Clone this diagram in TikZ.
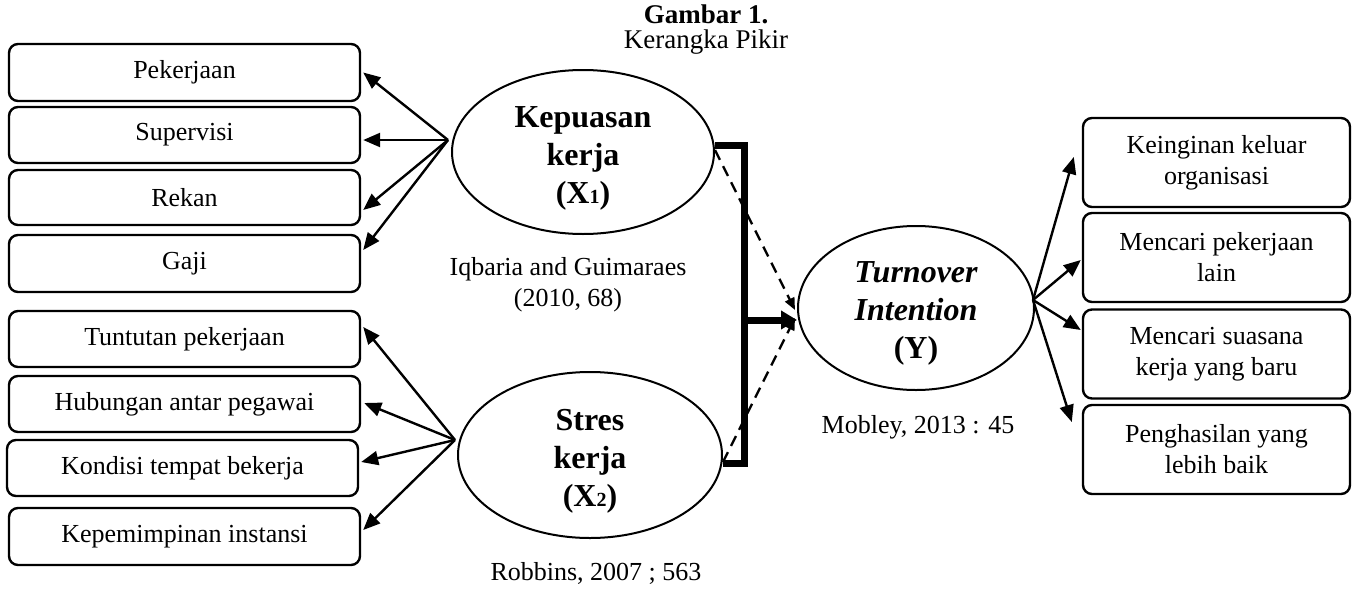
\documentclass[tikz,border=0pt]{standalone}
\usepackage{fontspec}
\setmainfont{Liberation Serif}
\usetikzlibrary{arrows.meta,shapes.geometric,calc}
\tikzset{
  box/.style={draw, line width=2.4pt, rounded corners=9pt, inner sep=0pt, align=center,
    font=\fontsize{26}{31}\selectfont},
  lbox/.style={box, minimum width=351pt, minimum height=56pt},
  rbox/.style={box, minimum width=267pt, minimum height=89pt},
  var/.style={draw, ellipse, line width=2pt, inner sep=0pt},
  vartext/.style={align=center, inner sep=0pt, font=\fontsize{32}{38}\selectfont\bfseries},
  arr/.style={line width=2.4pt, -{Triangle[length=17pt,width=14pt]}},
  thickarr/.style={line width=7pt, -{Triangle[length=16pt,width=18pt]}},
  dasharr/.style={line width=2.4pt, dash pattern=on 11pt off 7pt, -{Triangle[length=12pt,width=10pt]}},
  bracket/.style={line width=7pt},
  lbl/.style={align=center, inner sep=0pt, font=\fontsize{26}{31}\selectfont}
}
\newcommand{\subnum}[1]{{\fontsize{20}{20}\selectfont #1}}
\begin{document}
\begin{tikzpicture}[x=1pt,y=-1pt]
\useasboundingbox (0,0) rectangle (1352,589);

% title
\node[align=center, inner sep=0pt, font=\fontsize{27}{25}\selectfont] (title) at (706,30)
  {\textbf{Gambar 1.}\\Kerangka Pikir};

% left top boxes
\node[lbox, minimum height=57pt] (pek) at (184.5,72.5) {Pekerjaan};
\node[lbox] (sup) at (184.5,135) {Supervisi};
\node[lbox, minimum height=55pt] (rek) at (184.5,197.5) {Rekan};
\node[lbox, minimum height=57pt] (gaj) at (184.5,263.5) {Gaji};

% left bottom boxes
\node[lbox] (tun) at (184.5,339) {Tuntutan pekerjaan};
\node[lbox] (hub) at (184.5,404) {Hubungan antar pegawai};
\node[lbox] (kon) at (182.5,468) {Kondisi tempat bekerja};
\node[lbox, minimum height=57pt] (kep) at (184.5,536.5) {Kepemimpinan instansi};

% right boxes
\node[rbox] (r1) at (1216.5,162.5) {Keinginan keluar\\organisasi};
\node[rbox] (r2) at (1216.5,257.5) {Mencari pekerjaan\\lain};
\node[rbox] (r3) at (1216.5,354) {Mencari suasana\\kerja yang baru};
\node[rbox] (r4) at (1216.5,449.5) {Penghasilan yang\\lebih baik};

% ellipses
\node[var, minimum width=262pt, minimum height=164pt] (x1) at (583,152) {};
\node[vartext] (x1t) at (583,158) {Kepuasan\\kerja\\(X\subnum{1})};
\node[var, minimum width=264pt, minimum height=166pt] (x2) at (590,455) {};
\node[vartext] (x2t) at (590,461) {Stres\\kerja\\(X\subnum{2})};
\node[var, minimum width=236pt, minimum height=164pt] (y) at (916,308) {};
\node[vartext] (yt) at (916,313) {\itshape Turnover\\\itshape Intention\\(Y)};

% citations
\node[lbl] (c1) at (568,285) {Iqbaria and Guimaraes\\(2010, 68)};
\node[lbl] (c2) at (596,573) {Robbins, 2007 ; 563};
\node[lbl] (c3) at (918,427) {Mobley, 2013 : 45};

% convergence points
\coordinate (o1) at (448,140);
\coordinate (o2) at (455,440);
\coordinate (o3) at (1033,300);

\draw[arr] (o1) -- ([xshift=2pt]pek.east);
\draw[arr] (o1) -- ([xshift=2pt,yshift=-5pt]sup.east);
\draw[arr] (o1) -- ([xshift=2pt,yshift=-12.5pt]rek.east);
\draw[arr] (o1) -- ([xshift=2pt,yshift=13.5pt]gaj.east);

\draw[arr] (o2) -- ([xshift=2pt,yshift=12pt]tun.east);
\draw[arr] (o2) -- ([xshift=3pt,yshift=1pt]hub.east);
\draw[arr] (o2) -- ([xshift=2pt,yshift=6pt]kon.east);
\draw[arr] (o2) -- ([xshift=2pt,yshift=6.5pt]kep.east);

\draw[arr] (o3) -- ([xshift=-8pt,yshift=5.5pt]r1.west);
\draw[arr] (o3) -- ([xshift=-1pt,yshift=-2.5pt]r2.west);
\draw[arr] (o3) -- ([xshift=-1pt,yshift=24pt]r3.west);
\draw[arr] (o3) -- ([xshift=-10pt,yshift=27.5pt]r4.west);

% bracket and main arrow
\draw[bracket] ([yshift=7pt]x1.east) -| ([xshift=21pt,yshift=-8pt]x2.east) -- ([yshift=-8pt]x2.east);
\coordinate (mid) at (743,320);
\draw[thickarr] (mid) -- ([yshift=-12pt]y.west);

% dashed
\draw[dasharr] ([yshift=2pt]x1.east) -- ([xshift=-2pt,yshift=-2pt]y.west);
\draw[dasharr] ([yshift=-7pt]x2.east) -- ([xshift=-2pt,yshift=-10pt]y.west);
\end{tikzpicture}
\end{document}
